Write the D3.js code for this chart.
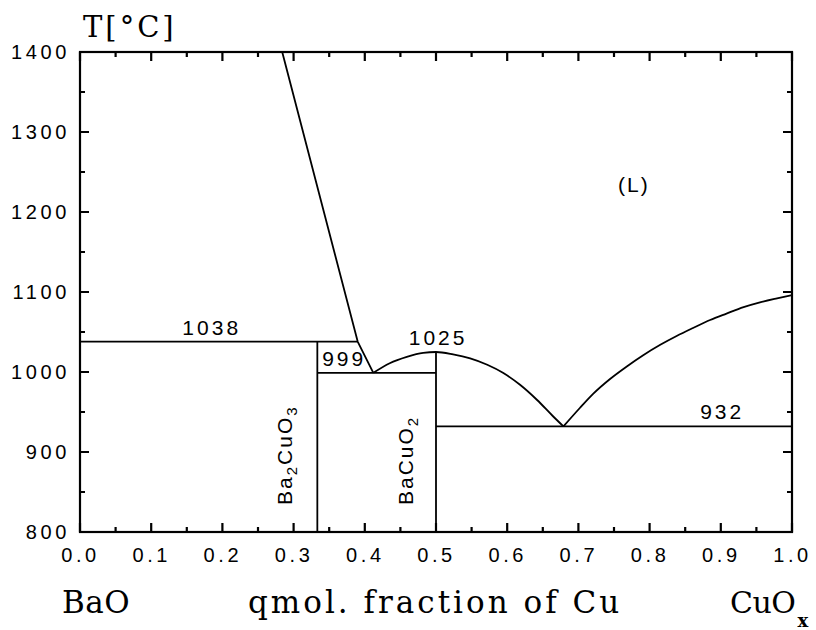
<!DOCTYPE html>
<html>
<head>
<meta charset="utf-8">
<script src="https://cdn.jsdelivr.net/npm/d3@7"></script>
<style>
  html, body { margin: 0; padding: 0; background: #fff; }
  svg { display: block; }
</style>
</head>
<body>
<svg id="chart" width="816" height="630"></svg>
<script>
// BaO – CuOx phase diagram (mole fraction of Cu vs temperature)

// Invariant temperatures (°C) and compound compositions
const T_PERITECTIC = 1038;
const T_EUTECTIC_1 = 999;
const T_MELT_BACUO2 = 1025;
const T_EUTECTIC_2 = 932;
const X_BA2CUO3 = 1 / 3;
const X_BACUO2 = 0.5;

// Liquidus branches: [x(Cu), T]
const liquidusBaO = [[0.284, 1400], [0.39, T_PERITECTIC], [0.412, T_EUTECTIC_1]];
const liquidusBaCuO2 = [
  [0.412, T_EUTECTIC_1], [0.435, 1011], [0.459, 1019], [0.482, 1024], [0.5, T_MELT_BACUO2],
  [0.524, 1022], [0.548, 1017], [0.572, 1009], [0.594, 999], [0.618, 984],
  [0.642, 965], [0.664, 945], [0.679, T_EUTECTIC_2]
];
const liquidusCuO = [
  [0.679, T_EUTECTIC_2], [0.702, 955], [0.721, 973], [0.744, 991], [0.768, 1007],
  [0.791, 1021], [0.815, 1034], [0.838, 1045], [0.861, 1055], [0.885, 1065],
  [0.908, 1073], [0.932, 1081], [0.955, 1087], [0.979, 1092], [1.0, 1096]
];

// Isotherms and compound lines: [[x1, T1], [x2, T2]]
const solidusSegments = [
  [[0, T_PERITECTIC], [0.39, T_PERITECTIC]],
  [[X_BA2CUO3, T_PERITECTIC], [X_BA2CUO3, 800]],
  [[X_BA2CUO3, T_EUTECTIC_1], [X_BACUO2, T_EUTECTIC_1]],
  [[X_BACUO2, T_MELT_BACUO2], [X_BACUO2, 800]],
  [[X_BACUO2, T_EUTECTIC_2], [1.0, T_EUTECTIC_2]]
];

// Axis ticks
const xTickValues = [0, 0.1, 0.2, 0.3, 0.4, 0.5, 0.6, 0.7, 0.8, 0.9, 1.0];
const xMinorTicks = [0.05, 0.15, 0.25, 0.35, 0.45, 0.55, 0.65, 0.75, 0.85, 0.95];
const yTickValues = [800, 900, 1000, 1100, 1200, 1300, 1400];
const yMinorTicks = [850, 950, 1050, 1150, 1250, 1350];

const svg = d3.select("#chart");
const plotL = 80, plotR = 792, plotT = 52, plotB = 532;

const x = d3.scaleLinear().domain([0, 1]).range([plotL, plotR]);
const y = d3.scaleLinear().domain([800, 1400]).range([plotB, plotT]);

const sans = "'Liberation Sans', Arial, sans-serif";
const serif = "'DejaVu Serif', serif";

svg.append("rect").attr("width", 816).attr("height", 630).attr("fill", "#fff");

// ---- tick labels (axis generators, lines removed) ----
function labelsOnly(g) {
  g.select(".domain").remove();
  g.selectAll(".tick line").remove();
  g.selectAll("text")
    .attr("font-family", sans).attr("font-size", 20)
    .attr("letter-spacing", 3.6).attr("fill", "#000");
}
svg.append("g").attr("transform", `translate(0,${plotB})`)
  .call(d3.axisBottom(x).tickValues(xTickValues).tickSize(0).tickPadding(16).tickFormat(d3.format(".1f")))
  .call(labelsOnly);
svg.append("g").attr("transform", `translate(${plotL},0)`)
  .call(d3.axisLeft(y).tickValues(yTickValues).tickSize(0).tickPadding(10).tickFormat(d3.format("d")))
  .call(labelsOnly);

// ---- tick marks, pointing inward on all four sides ----
const MAJ = 9, MIN = 5;
const tickPath = d3.path();
[[xTickValues, MAJ], [xMinorTicks, MIN]].forEach(([vals, len]) => vals.forEach(v => {
  const px = x(v);
  tickPath.moveTo(px, plotB); tickPath.lineTo(px, plotB - len);
  tickPath.moveTo(px, plotT); tickPath.lineTo(px, plotT + len);
}));
[[yTickValues, MAJ], [yMinorTicks, MIN]].forEach(([vals, len]) => vals.forEach(v => {
  const py = y(v);
  tickPath.moveTo(plotL, py); tickPath.lineTo(plotL + len, py);
  tickPath.moveTo(plotR, py); tickPath.lineTo(plotR - len, py);
}));
svg.append("path")
  .attr("d", tickPath.toString())
  .attr("fill", "none")
  .attr("stroke", "#000")
  .attr("stroke-width", 2.2);

// frame
svg.append("rect")
  .attr("x", plotL).attr("y", plotT)
  .attr("width", plotR - plotL).attr("height", plotB - plotT)
  .attr("fill", "none").attr("stroke", "#000").attr("stroke-width", 2.2);

// ---- phase boundaries ----
const plot = svg.append("g").attr("fill", "none").attr("stroke", "#000")
  .attr("stroke-width", 1.8).attr("stroke-linejoin", "round");

const straight = d3.line().x(d => x(d[0])).y(d => y(d[1]));
const smooth = d3.line().x(d => x(d[0])).y(d => y(d[1])).curve(d3.curveMonotoneX);

plot.append("path").attr("d", straight(liquidusBaO));
plot.append("path").attr("d", smooth(liquidusBaCuO2));
plot.append("path").attr("d", smooth(liquidusCuO));
plot.selectAll("path.seg").data(solidusSegments).join("path")
  .attr("class", "seg").attr("d", straight);

// ---- labels inside the plot ----
const ann = svg.append("g").attr("font-family", sans).attr("font-size", 21)
  .attr("letter-spacing", 3).attr("fill", "#000").attr("text-anchor", "middle");

const isoLabels = [
  { value: T_PERITECTIC, at: 0.185 },
  { value: T_EUTECTIC_1, at: 0.371 },
  { value: T_MELT_BACUO2, at: 0.503 },
  { value: T_EUTECTIC_2, at: 0.902 }
];
ann.selectAll("text.iso").data(isoLabels).join("text")
  .attr("class", "iso")
  .attr("x", d => x(d.at))
  .attr("y", d => y(d.value) - 7)
  .text(d => d.value);

ann.append("text").attr("x", x(0.778)).attr("y", y(1225)).attr("letter-spacing", 2).text("(L)");

// compound labels, written upward along their composition lines
function compound(xPos, parts) {
  const t = svg.append("text")
    .attr("transform", `translate(${xPos},${y(800) - 27}) rotate(-90)`)
    .attr("font-family", sans).attr("font-size", 21).attr("letter-spacing", 2).attr("fill", "#000");
  parts.forEach(([s, sub]) => {
    t.append("tspan").attr("font-size", 21).attr("dy", t.node().childNodes.length ? -5 : 0).text(s);
    t.append("tspan").attr("font-size", 15).attr("dy", 5).text(sub);
  });
}
compound(x(X_BA2CUO3) - 20, [["Ba", "2"], ["CuO", "3"]]);
compound(x(X_BACUO2) - 18, [["BaCuO", "2"]]);

// ---- axis titles ----
svg.append("text").attr("x", 83).attr("y", 37)
  .attr("font-family", serif).attr("font-size", 29).attr("letter-spacing", 3)
  .attr("fill", "#000").text("T[°C]");

const titles = svg.append("g").attr("font-family", serif).attr("font-size", 31)
  .attr("fill", "#000");
titles.append("text").attr("x", 62).attr("y", 613).attr("letter-spacing", 0.5).text("BaO");
titles.append("text").attr("x", 248).attr("y", 613).attr("letter-spacing", 3).text("qmol. fraction of Cu");
const cuo = titles.append("text").attr("x", 730).attr("y", 613).attr("font-size", 30).attr("letter-spacing", -0.5);
cuo.append("tspan").text("CuO");
cuo.append("tspan").attr("dy", 14).attr("dx", 2).attr("font-size", 18).attr("font-weight", "bold").text("x");
</script>
</body>
</html>
